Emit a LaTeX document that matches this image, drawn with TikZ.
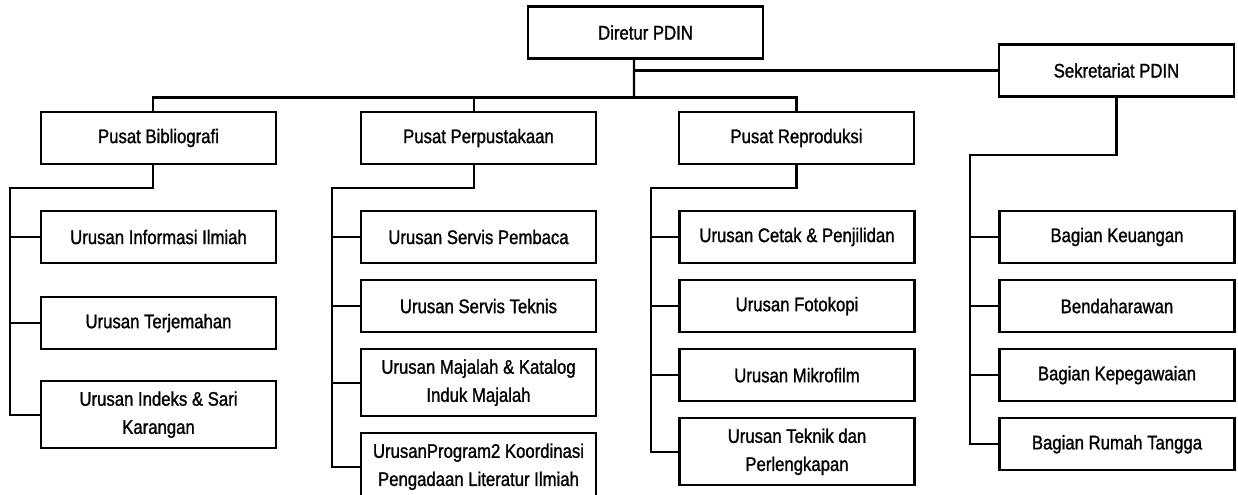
\documentclass[tikz,border=0pt]{standalone}
\usepackage{fontspec}
\setmainfont{Liberation Sans}[FakeStretch=0.85,FakeBold=1.2]
\usetikzlibrary{positioning}

\begin{document}
\begin{tikzpicture}[
    x=0.02cm, y=-0.02cm,
    node distance=0.3cm,
    unitbox/.style={
        draw,
        rectangle,
        line width=1.2pt,
        align=center,
        minimum width=4.7cm,
        minimum height=1.04cm,
        inner sep=2pt,
        font=\fontsize{11.2}{16}\selectfont
    },
    tallbox/.style={unitbox, minimum height=1.34cm},
    conn/.style={line width=1.2pt}
]
\useasboundingbox (0,0) rectangle (1238,494);
\clip (0,0) rectangle (1238,494);

% ---------- TOP
\node[unitbox] (dir) at (645.5,32.5) {Diretur PDIN};
\node[unitbox] (sek) at (1116.5,70.5) {Sekretariat PDIN};

% ---------- PUSAT ROW
\node[unitbox] (bib) at (158.5,138) {Pusat Bibliografi};
\node[unitbox] (perp) at (478.5,138) {Pusat Perpustakaan};
\node[unitbox] (repro) at (796.5,138) {Pusat Reproduksi};

% ---------- COLUMN 1 (BIBLIOGRAFI)
\node[unitbox] (info) at (158.5,237) {Urusan Informasi Ilmiah};
\node[unitbox] (terj) [below=0.64cm of info] {Urusan Terjemahan};
\node[tallbox] (indeks) [below=0.6cm of terj] {Urusan Indeks \& Sari\\Karangan};

% ---------- COLUMN 2 (PERPUSTAKAAN)
\node[unitbox] (pemb) at (478.5,237) {Urusan Servis Pembaca};
\node[unitbox] (tekn) [below=of pemb] {Urusan Servis Teknis};
\node[tallbox] (maj) [below=of tekn] {Urusan Majalah \& Katalog\\Induk Majalah};
\node[tallbox] (prog) [below=of maj] {UrusanProgram2 Koordinasi\\Pengadaan Literatur Ilmiah};

% ---------- COLUMN 3 (REPRODUKSI)
\node[unitbox] (cetak) at (797,237) {Urusan Cetak \& Penjilidan};
\node[unitbox] (foto) [below=of cetak] {Urusan Fotokopi};
\node[unitbox] (mikro) [below=of foto] {Urusan Mikrofilm};
\node[tallbox] (teknik) [below=of mikro] {Urusan Teknik dan\\Perlengkapan};

% ---------- COLUMN 4 (SEKRETARIAT)
\node[unitbox] (keu) at (1117,237) {Bagian Keuangan};
\node[unitbox] (bend) [below=of keu] {Bendaharawan};
\node[unitbox] (pegaw) [below=of bend] {Bagian Kepegawaian};
\node[unitbox] (rumah) [below=of pegaw] {Bagian Rumah Tangga};

% ---------- DIRECTOR TO PUSAT
\coordinate (bus) at (634,97.5);
\draw[conn] ([xshift=-0.23cm]dir.south) -- (bus);
\draw[conn] ([xshift=-0.11cm]bib.north) |- (bus) -| (repro.north);
\draw[conn] ([xshift=-0.09cm]perp.north) -- ([xshift=-0.09cm]perp.north |- bus);
\draw[conn] (sek.west) -- (sek.west -| bus);

% ---------- SPINES
\coordinate (sp1) at (10,188);
\coordinate (sp2) at (332,188);
\coordinate (sp3) at (651,188);
\coordinate (sp4) at (970,155);

\draw[conn] ([xshift=-0.11cm]bib.south) |- (sp1) |- (indeks.west);
\foreach \n in {info,terj} \draw[conn] (\n.west -| sp1) -- (\n.west);

\draw[conn] ([xshift=-0.09cm]perp.south) |- (sp2) |- (prog.west);
\foreach \n in {pemb,tekn,maj} \draw[conn] (\n.west -| sp2) -- (\n.west);

\draw[conn] (repro.south) |- (sp3) |- (teknik.west);
\foreach \n in {cetak,foto,mikro} \draw[conn] (\n.west -| sp3) -- (\n.west);

\draw[conn] (sek.south) |- (sp4) |- (rumah.west);
\foreach \n in {keu,bend,pegaw} \draw[conn] (\n.west -| sp4) -- (\n.west);

\end{tikzpicture}
\end{document}
